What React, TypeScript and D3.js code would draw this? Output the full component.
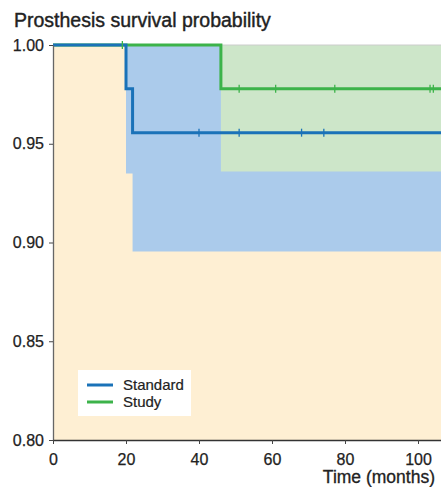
import React, { useEffect, useRef } from 'react';
import * as d3 from 'd3';

// step times and survival estimates
const standardTimes = [0, 20, 21.8];
const standardSurv = [1.0, 0.9778, 0.9556];
const standardLower = [1.0, 0.935, 0.8955];
const standardCensor = [40, 51, 68.1, 74.2];

const studyTimes = [0, 46];
const studySurv = [1.0, 0.9778];
const studyLower = [1.0, 0.936];
const studyCensor = [19, 51, 61, 77.2, 103.3, 104.2];

const xTicks = [0, 20, 40, 60, 80, 100];
const yTicks = [0.8, 0.85, 0.9, 0.95, 1.0];
const legendLabels = ['Standard', 'Study'];

const W = 441;
const H = 487;
const xMax = 106.3;

const FONT = '"Liberation Sans", Arial, Helvetica, sans-serif';

const stepAt = (times: number[], vals: number[], t: number) => {
  let v = vals[0];
  times.forEach((tt, i) => { if (t >= tt) v = vals[i]; });
  return v;
};

const App = () => {
  const xAxisRef = useRef<SVGGElement>(null);
  const yAxisRef = useRef<SVGGElement>(null);

  const x = d3.scaleLinear().domain([0, xMax]).range([53, W]);
  const y = d3.scaleLinear().domain([0.8, 1.0]).range([440, 45]);

  const withEnd = (times: number[], vals: number[]) =>
    [...times.map((t, i) => [t, vals[i]] as [number, number]), [xMax, vals[vals.length - 1]] as [number, number]];

  const line = d3.line<[number, number]>()
    .x(d => x(d[0]))
    .y(d => y(d[1]))
    .curve(d3.curveStepAfter);

  const band = d3.area<[number, number]>()
    .x(d => x(d[0]))
    .y0(d => y(d[1]))
    .y1(() => y(1.0))
    .curve(d3.curveStepAfter);

  useEffect(() => {
    const xa = d3.select(xAxisRef.current!);
    xa.call(d3.axisBottom(x).tickValues(xTicks).tickSize(4).tickSizeOuter(0).tickPadding(10) as any);
    xa.select('.domain').attr('stroke', '#333').attr('stroke-width', 1.3);
    xa.selectAll('.tick line').attr('stroke', '#444');
    xa.selectAll('.tick text').attr('font-size', 16).attr('fill', '#222').attr('font-family', FONT)
      .attr('stroke', '#222').attr('stroke-width', 0.25);

    const ya = d3.select(yAxisRef.current!);
    ya.call(d3.axisLeft(y).tickValues(yTicks).tickFormat(d3.format('.2f') as any).tickSize(4).tickSizeOuter(0).tickPadding(5) as any);
    ya.select('.domain').attr('stroke', '#666').attr('stroke-width', 1.3);
    ya.selectAll('.tick line').attr('stroke', '#444');
    ya.selectAll('.tick text').attr('font-size', 16).attr('fill', '#222').attr('font-family', FONT)
      .attr('stroke', '#222').attr('stroke-width', 0.25);
  }, []);

  const blue = '#1a72b8';
  const green = '#3cb34a';

  return (
    <div style={{ position: 'absolute', left: 0, top: 0 }}>
      <svg width={W} height={H} style={{ display: 'block' }}>
        <rect x={0} y={0} width={W} height={H} fill="#fff" />
        <text x={14} y={27} fontSize={19.5} fill="#222" stroke="#222" strokeWidth={0.4} fontFamily={FONT}>Prosthesis survival probability</text>

        <rect x={x(0)} y={y(1.0)} width={x(xMax) - x(0)} height={y(0.8) - y(1.0)} fill="#feefd3" />
        <path d={band(withEnd(standardTimes, standardLower)) || ''} fill="#abcbeb" />
        <path d={band(withEnd(studyTimes, studyLower)) || ''} fill="#cde6c9" />
        <line x1={x(0)} x2={W} y1={y(1.0)} y2={y(1.0)} stroke="#ccc" strokeWidth={1} />

        <path d={line(withEnd(studyTimes, studySurv)) || ''} fill="none" stroke={green} strokeWidth={3} />
        <path d={line(withEnd(standardTimes, standardSurv)) || ''} fill="none" stroke={blue} strokeWidth={3} />

        {studyCensor.map((t, i) => {
          const cy = y(stepAt(studyTimes, studySurv, t));
          return <line key={'sc' + i} x1={x(t)} x2={x(t)} y1={cy - 4} y2={cy + 4} stroke={green} strokeWidth={1.3} />;
        })}
        {standardCensor.map((t, i) => {
          const cy = y(stepAt(standardTimes, standardSurv, t));
          return <line key={'bc' + i} x1={x(t)} x2={x(t)} y1={cy - 4} y2={cy + 4} stroke={blue} strokeWidth={1.3} />;
        })}

        <g ref={yAxisRef} transform={`translate(${x(0)},0)`} />
        <g ref={xAxisRef} transform={`translate(0,${y(0.8)})`} />

        <text x={435} y={483} textAnchor="end" fontSize={17.5} fill="#222" stroke="#222" strokeWidth={0.3} fontFamily={FONT}>Time (months)</text>

        <g transform="translate(78,370)">
          <rect x={0} y={0} width={113} height={46} fill="#fff" />
          {legendLabels.map((label, i) => (
            <g key={label} transform={`translate(0,${15 + i * 17})`}>
              <line x1={9} x2={35} y1={0} y2={0} stroke={i === 0 ? blue : green} strokeWidth={3} />
              <text x={45} y={5} fontSize={15} fill="#222" stroke="#222" strokeWidth={0.2} fontFamily={FONT}>{label}</text>
            </g>
          ))}
        </g>
      </svg>
    </div>
  );
};

export default App;
